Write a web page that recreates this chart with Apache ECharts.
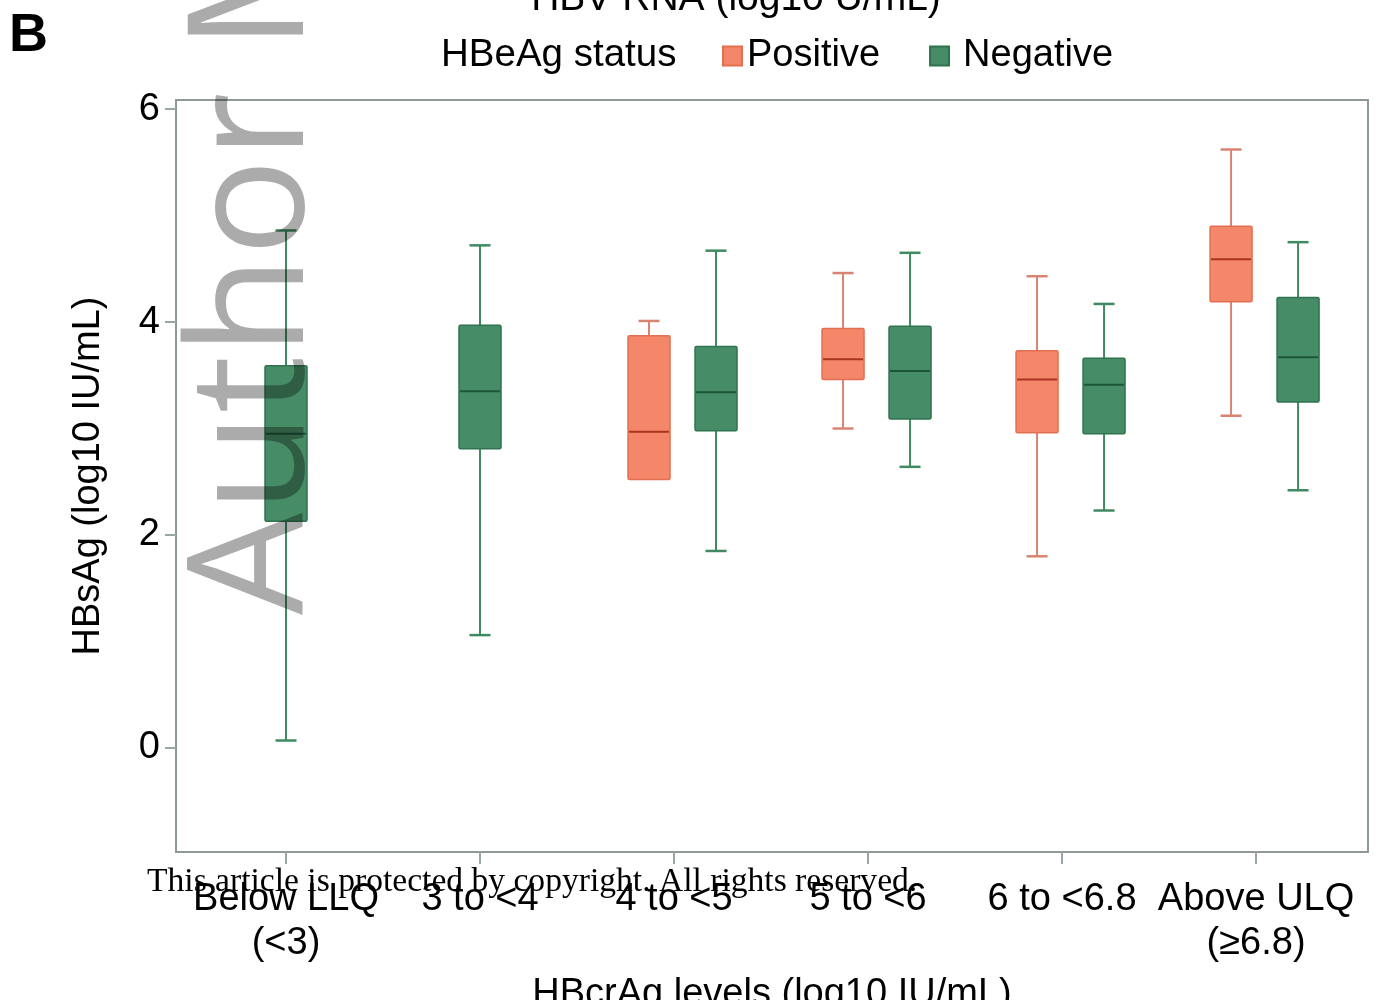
<!DOCTYPE html>
<html>
<head>
<meta charset="utf-8">
<script src="https://cdn.jsdelivr.net/npm/echarts@6/dist/echarts.min.js"></script>
<style>
html,body{margin:0;padding:0;background:#fff;}
#chart{width:1377px;height:1000px;}
</style>
</head>
<body>
<div id="chart"></div>
<script>
// ---- data ----
const categories = ['Below LLQ\n(<3)', '3 to <4', '4 to <5', '5 to <6', '6 to <6.8', 'Above ULQ\n(≥6.8)'];
// [min, Q1, median, Q3, max] (log10 IU/mL); null = no group
const positiveStats = [
  null,
  null,
  [2.52, 2.52, 2.97, 3.87, 4.01],
  [3.00, 3.46, 3.65, 3.94, 4.46],
  [1.80, 2.96, 3.46, 3.73, 4.43],
  [3.12, 4.19, 4.59, 4.90, 5.62]
];
const negativeStats = [
  [0.07, 2.13, 2.95, 3.59, 4.86],
  [1.06, 2.81, 3.35, 3.97, 4.72],
  [1.85, 2.98, 3.34, 3.77, 4.67],
  [2.64, 3.09, 3.54, 3.96, 4.65],
  [2.23, 2.95, 3.41, 3.66, 4.17],
  [2.42, 3.25, 3.67, 4.23, 4.75]
];
const yTicks = [0, 2, 4, 6];

const FONT = 'Liberation Sans, Arial, sans-serif';

function toItems(stats) {
  const out = [];
  stats.forEach((s, i) => { if (s) out.push([i].concat(s)); });
  return out;
}

function makeRender(kind, colors) {
  return function (params, api) {
    const cat = api.value(0);
    const mn = api.value(1), q1 = api.value(2), md = api.value(3), q3 = api.value(4), mx = api.value(5);
    let off = 0;
    if (kind === 'pos') off = -25;
    else if (positiveStats[cat]) off = 42;
    const cx = api.coord([cat, 0])[0] + off;
    const Y = v => api.coord([cat, v])[1];
    const bw = 42, cap = 21;
    const yq1 = Y(q1), yq3 = Y(q3), ymd = Y(md), ymn = Y(mn), ymx = Y(mx);
    const wStyle = { stroke: colors.whisker, lineWidth: 2 };
    const children = [];
    if (Math.abs(ymx - yq3) > 0.5) {
      children.push({ type: 'line', shape: { x1: cx, y1: yq3, x2: cx, y2: ymx }, style: wStyle });
    }
    children.push({ type: 'line', shape: { x1: cx - cap / 2, y1: ymx, x2: cx + cap / 2, y2: ymx }, style: { stroke: colors.whisker, lineWidth: 2.5 } });
    if (Math.abs(ymn - yq1) > 0.5) {
      children.push({ type: 'line', shape: { x1: cx, y1: yq1, x2: cx, y2: ymn }, style: wStyle });
      children.push({ type: 'line', shape: { x1: cx - cap / 2, y1: ymn, x2: cx + cap / 2, y2: ymn }, style: { stroke: colors.whisker, lineWidth: 2.5 } });
    }
    children.push({ type: 'rect', shape: { x: cx - bw / 2, y: yq3, width: bw, height: yq1 - yq3, r: 1.5 },
      style: { fill: colors.fill, stroke: colors.border, lineWidth: 1.5 } });
    children.push({ type: 'line', shape: { x1: cx - bw / 2 + 1, y1: ymd, x2: cx + bw / 2 - 1, y2: ymd },
      style: { stroke: colors.median, lineWidth: 2 } });
    return { type: 'group', children: children };
  };
}

const posColors = { fill: '#F4866A', border: '#E0704F', median: '#A9331F', whisker: '#D98472' };
const negColors = { fill: '#468C66', border: '#2F7350', median: '#1C5638', whisker: '#3F8A62' };

const chart = echarts.init(document.getElementById('chart'), null, { renderer: 'canvas' });

const option = {
  backgroundColor: '#ffffff',
  animation: false,
  grid: { left: 176, right: 9, top: 100, bottom: 148, outerBoundsMode: 'none', containLabel: false,
    show: true, borderColor: '#8E9A9A', borderWidth: 2, backgroundColor: 'transparent' },
  legend: {
    data: [{ name: 'Positive' }, { name: 'Negative', textStyle: { padding: [0, 0, 0, 9] } }],
    left: 717, top: 32,
    icon: 'rect', itemWidth: 19, itemHeight: 19, itemGap: 49,
    textStyle: { fontFamily: FONT, fontSize: 38, color: '#000' },
    selectedMode: false
  },
  xAxis: {
    type: 'value',
    min: -0.567, max: 5.577,
    splitLine: { show: false },
    axisLine: { show: true, onZero: false, lineStyle: { color: '#8E9A9A', width: 2 } },
    axisTick: { show: true, length: 12, customValues: [0, 1, 2, 3, 4, 5], lineStyle: { color: '#9AA6A6', width: 2 } },
    axisLabel: {
      customValues: [0, 1, 2, 3, 4, 5],
      formatter: v => categories[Math.round(v)],
      margin: 26, fontFamily: FONT, fontSize: 38, color: '#000', lineHeight: 44
    },
    name: 'HBcrAg levels (log10 IU/mL)',
    nameLocation: 'middle', nameGap: 124,
    nameTextStyle: { fontFamily: FONT, fontSize: 38, color: '#000', verticalAlign: 'top' }
  },
  yAxis: {
    type: 'value',
    min: -0.977, max: 6.085,
    splitLine: { show: false },
    axisLine: { show: true, onZero: false, lineStyle: { color: '#8E9A9A', width: 2 } },
    axisTick: { show: true, length: 11, customValues: yTicks, lineStyle: { color: '#9AA6A6', width: 2 } },
    axisLabel: { customValues: yTicks, margin: 16, fontFamily: FONT, fontSize: 38, color: '#000' },
    name: 'HBsAg (log10 IU/mL)',
    nameLocation: 'middle', nameGap: 68,
    nameTextStyle: { fontFamily: FONT, fontSize: 38, color: '#000' }
  },
  series: [
    {
      name: 'Positive', type: 'custom',
      data: toItems(positiveStats),
      encode: { x: 0, y: [1, 2, 3, 4, 5] },
      itemStyle: { color: posColors.fill, borderColor: posColors.border, borderWidth: 1 },
      renderItem: makeRender('pos', posColors),
      z: 3
    },
    {
      name: 'Negative', type: 'custom',
      data: toItems(negativeStats),
      encode: { x: 0, y: [1, 2, 3, 4, 5] },
      itemStyle: { color: negColors.fill, borderColor: negColors.border, borderWidth: 1 },
      renderItem: makeRender('neg', negColors),
      z: 3
    }
  ],
  graphic: [
    { type: 'text', left: 9, top: 9, style: { text: 'B', font: 'bold 54px Liberation Sans, Arial, sans-serif', fill: '#000' } },
    { type: 'text', x: 736, y: 19, style: { text: 'HBV RNA (log10 U/mL)', font: '39px Liberation Sans, Arial, sans-serif', fill: '#000', align: 'center', verticalAlign: 'bottom' } },
    { type: 'text', x: 441, y: 55, style: { text: 'HBeAg status', font: '38.5px Liberation Sans, Arial, sans-serif', fill: '#000', align: 'left', verticalAlign: 'middle' } },
    { type: 'text', x: 147, y: 882, z: 100, style: { text: 'This article is protected by copyright. All rights reserved.', font: '33.6px Liberation Serif, Times New Roman, serif', fill: '#000', align: 'left', verticalAlign: 'middle' } },
    { type: 'text', x: 338, y: 615, rotation: Math.PI / 2, z: 100, style: { text: 'Author Manuscript', font: '162px Open Sans, sans-serif', fill: 'rgba(0,0,0,0.33)', align: 'left', verticalAlign: 'bottom' } }
  ]
};
chart.setOption(option);
</script>
</body>
</html>
